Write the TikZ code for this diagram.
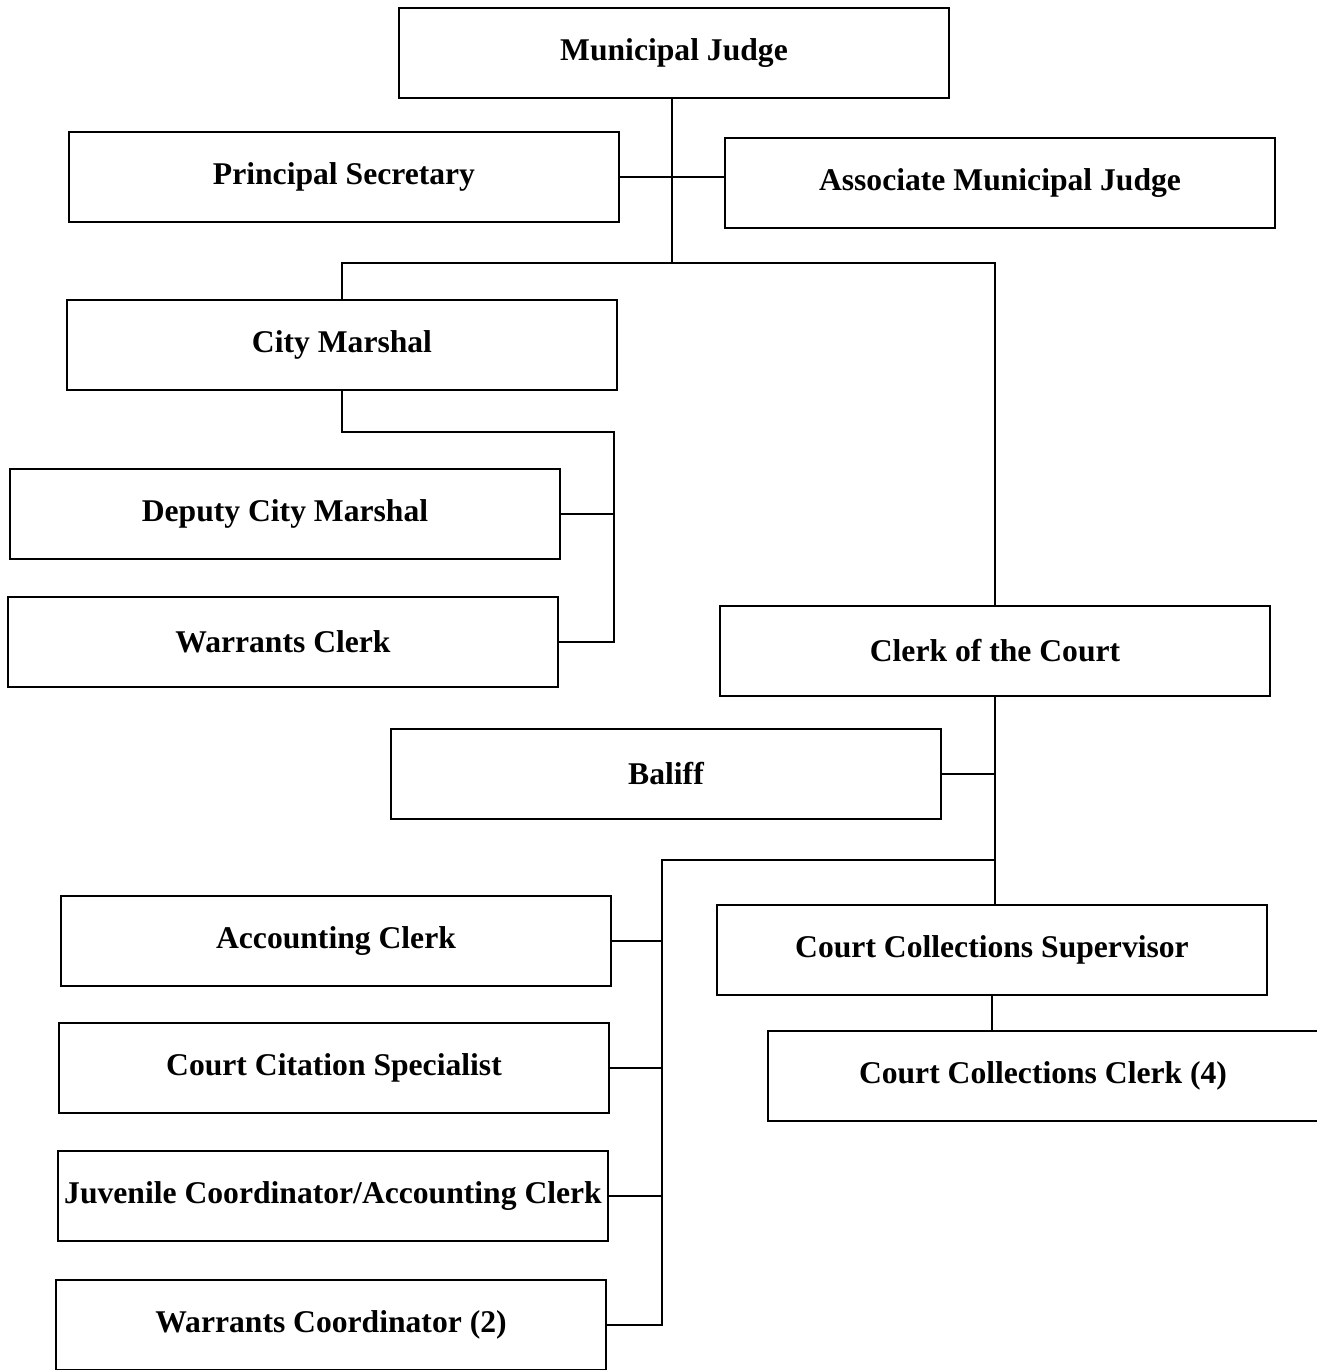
\documentclass[tikz,border=0pt]{standalone}
\usepackage{fontspec}
\setmainfont{Liberation Serif}
\usepackage{tikz}
\usetikzlibrary{positioning}

\begin{document}
\begin{tikzpicture}[
    x=0.02cm, y=-0.02cm,
    post/.style={rectangle, draw=black, line width=1.6pt, align=center, minimum width=11cm, minimum height=1.8cm, inner sep=0pt, font=\fontsize{18}{20}\selectfont\bfseries},
    link/.style={line width=1.6pt}
]
\useasboundingbox (0,0) rectangle (1316,1370);

\node[post] (judge) at (674,53) {Municipal Judge};
\node[post] (secretary) at (344,177) {Principal Secretary};
\node[post] (associate) at (1000,183) {Associate Municipal Judge};
\node[post] (marshal) at (342,345) {City Marshal};
\node[post] (deputy) at (285,514) {Deputy City Marshal};
\node[post] (warrants) at (283,642) {Warrants Clerk};
\node[post] (clerk) at (995,651) {Clerk of the Court};
\node[post] (baliff) at (666,774) {Baliff};
\node[post] (accounting) at (336,941) {Accounting Clerk};
\node[post] (supervisor) at (992,950) {Court Collections Supervisor};
\node[post] (citation) at (334,1068) {Court Citation Specialist};
\node[post] (collclerk) at (1043,1076) {Court Collections Clerk (4)};
\node[post] (juvenile) at (333,1196) {Juvenile Coordinator/Accounting Clerk};
\node[post] (coordinator) at (331,1325) {Warrants Coordinator (2)};

\coordinate (jt) at (672,263);
\coordinate (mj) at (614,432);
\coordinate (cj) at (662,860);

\draw[link] (judge.south -| jt) -- (jt);
\draw[link] (secretary.east) -- (associate.west |- secretary.east);
\draw[link] (marshal.north) |- (jt) -| (clerk.north);
\draw[link] (marshal.south) |- (mj) |- (warrants.east);
\draw[link] (deputy.east) -- (deputy.east -| mj);
\draw[link] (clerk.south) -- (clerk.south |- supervisor.north);
\draw[link] (baliff.east) -- (baliff.east -| clerk.south);
\draw[link] (clerk.south |- cj) -- (cj) |- (coordinator.east);
\draw[link] (accounting.east) -- (accounting.east -| cj);
\draw[link] (citation.east) -- (citation.east -| cj);
\draw[link] (juvenile.east) -- (juvenile.east -| cj);
\draw[link] (supervisor.south) -- (supervisor.south |- collclerk.north);
\end{tikzpicture}
\end{document}
